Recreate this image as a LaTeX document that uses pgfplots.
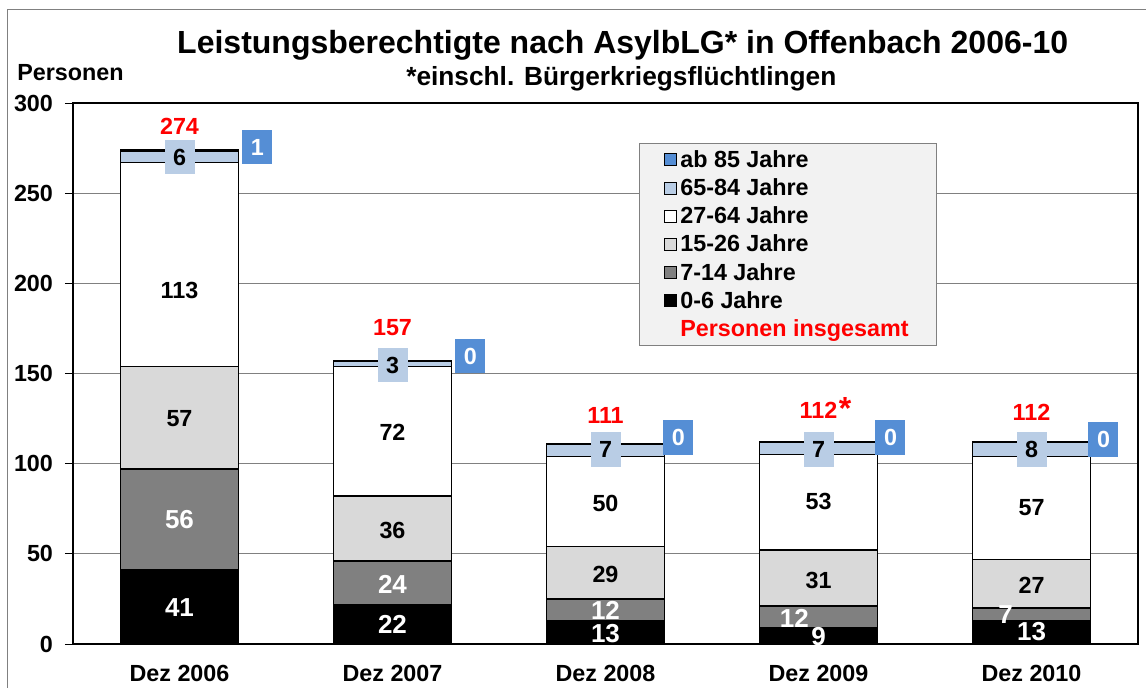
\documentclass[border=0pt]{standalone}
\usepackage{pgfplots}
\pgfplotsset{compat=1.18}
\usepackage{fontspec}
\setmainfont{Liberation Sans}
\definecolor{cA}{HTML}{000000}
\definecolor{cB}{HTML}{808080}
\definecolor{cC}{HTML}{D9D9D9}
\definecolor{cD}{HTML}{FFFFFF}
\definecolor{cE}{HTML}{B9CDE5}
\definecolor{cF}{HTML}{558ED5}
\definecolor{legbg}{HTML}{F2F2F2}
\definecolor{myred}{HTML}{FF0000}
\newcommand\fb{\fontsize{17.5}{20}\selectfont\bfseries}
\newcommand\fw{\fontsize{19.5}{22}\selectfont\bfseries}
\newcommand\barlabels{%
\node[lab, font=\fw, text=white] at (axis cs:0,20) {41};
\node[lab, font=\fw, text=white] at (axis cs:0,68.8) {56};
\node[lab, font=\fb] at (axis cs:0,124.8) {57};
\node[lab, font=\fb] at (axis cs:0,195.8) {113};
\node[lab, font=\fw, text=white] at (axis cs:1,11.1) {22};
\node[lab, font=\fw, text=white] at (axis cs:1,33.3) {24};
\node[lab, font=\fb] at (axis cs:1,63.2) {36};
\node[lab, font=\fb] at (axis cs:1,117.6) {72};
\node[lab, font=\fw, text=white] at (axis cs:2,5.6) {13};
\node[lab, font=\fw, text=white] at (axis cs:2,18.6) {12};
\node[lab, font=\fb] at (axis cs:2,38.8) {29};
\node[lab, font=\fb] at (axis cs:2,78.2) {50};
\node[lab, font=\fw, text=white] at (axis cs:3,3.9) {9};
\node[lab, font=\fw, text=white] at (axis cs:2.887,14.4) {12};
\node[lab, font=\fb] at (axis cs:3,35.5) {31};
\node[lab, font=\fb] at (axis cs:3,78.8) {53};
\node[lab, font=\fw, text=white] at (axis cs:4,6.7) {13};
\node[lab, font=\fw, text=white] at (axis cs:3.878,16.6) {7};
\node[lab, font=\fb] at (axis cs:4,32.7) {27};
\node[lab, font=\fb] at (axis cs:4,75.4) {57};
\node[lb] at (axis cs:0,270) {6};
\node[lb] at (axis cs:1,154.7) {3};
\node[lb] at (axis cs:2,108) {7};
\node[lb] at (axis cs:3,108) {7};
\node[lb] at (axis cs:4,108) {8};
\node[bb] at (axis cs:0.366,275.6) {1};
\node[bb] at (axis cs:1.366,159.7) {0};
\node[bb] at (axis cs:2.342,114.5) {0};
\node[bb] at (axis cs:3.338,114.5) {0};
\node[bb] at (axis cs:4.338,113.5) {0};
\node[lab, font=\fb, text=myred] at (axis cs:0,287.3) {274};
\node[lab, font=\fb, text=myred] at (axis cs:1,175.3) {157};
\node[lab, font=\fb, text=myred] at (axis cs:2,126.5) {111};
\node[lab, font=\fb, text=myred] at (axis cs:3,129.8) {112};
\node[lab, font=\fontsize{24}{26}\selectfont\bfseries, text=myred] at (axis cs:3.125,130.5) {*};
\node[lab, font=\fb, text=myred] at (axis cs:4,128.7) {112};
}
\begin{document}
\begin{tikzpicture}[
  lab/.style={inner sep=0pt},
  lb/.style={fill=cE, minimum width=22.5pt, minimum height=26pt, inner sep=0pt, font=\fb},
  bb/.style={fill=cF, text=white, minimum width=22.5pt, minimum height=26pt, inner sep=0pt, font=\fb}]
\useasboundingbox (0,0) rectangle (859.5pt,515.25pt);
\draw[gray, line width=0.75pt] (5.25pt,-20pt) -- (5.25pt,507.75pt) -- (880pt,507.75pt);
\begin{axis}[
  at={(54.75pt,32.25pt)}, anchor=south west,
  scale only axis, width=798.75pt, height=405.75pt,
  ybar stacked, bar width=88.5pt,
  xmin=-0.5, xmax=4.5, ymin=0, ymax=300,
  xtick={0,1,2,3,4},
  xticklabels={Dez 2006,Dez 2007,Dez 2008,Dez 2009,Dez 2010},
  ytick={0,50,100,150,200,250,300},
  ytick pos=left,
  ymajorgrids, grid style={cB, line width=0.75pt},
  axis line style={black, line width=1.1pt},
  tick align=outside, major tick length=6pt,
  ytick style={black, line width=0.75pt},
  xtick style={draw=none},
  /pgf/number format/assume math mode=true,
  tick label style={font=\fb},
  xticklabel style={yshift=-6pt},
  yticklabel style={xshift=-5.5pt},
  clip=false,
  reverse legend,
  legend cell align=left,
  legend style={at={(0.5315,0.926)}, anchor=north west, fill=legbg, draw=gray,
    line width=0.75pt, font=\fb, row sep=3pt, inner xsep=18pt, inner ysep=3pt,
    nodes={inner xsep=3pt}},
  leg/.style={legend image code/.code={\draw[##1, line width=0.6pt] (0pt,-4.5pt) rectangle (9pt,4.5pt);}},
  after end axis/.code={\barlabels},
]
\addlegendimage{empty legend}
\addlegendentry{\textcolor{myred}{Personen insgesamt}}
\addplot[fill=cA, draw=black, line width=1.1pt, leg] coordinates {(0,41) (1,22) (2,13) (3,9) (4,13)};
\addlegendentry{0-6 Jahre}
\addplot[fill=cB, draw=black, line width=1.1pt, leg] coordinates {(0,56) (1,24) (2,12) (3,12) (4,7)};
\addlegendentry{7-14 Jahre}
\addplot[fill=cC, draw=black, line width=1.1pt, leg] coordinates {(0,57) (1,36) (2,29) (3,31) (4,27)};
\addlegendentry{15-26 Jahre}
\addplot[fill=cD, draw=black, line width=1.1pt, leg] coordinates {(0,113) (1,72) (2,50) (3,53) (4,57)};
\addlegendentry{27-64 Jahre}
\addplot[fill=cE, draw=black, line width=1.1pt, leg] coordinates {(0,6) (1,3) (2,7) (3,7) (4,8)};
\addlegendentry{65-84 Jahre}
\addplot[fill=cF, draw=black, line width=1.1pt, leg] coordinates {(0,1) (1,0) (2,0) (3,0) (4,0)};
\addlegendentry{ab 85 Jahre}
\end{axis}
\node[font=\fontsize{24}{26}\selectfont\bfseries] at (467pt,481.5pt) {Leistungsberechtigte nach AsylbLG* in Offenbach 2006-10};
\node[font=\fontsize{19.7}{22}\selectfont\bfseries] at (466pt,456pt) {*einschl. Bürgerkriegsflüchtlingen};
\node[font=\fb, anchor=west, inner sep=0pt] at (12.75pt,460.5pt) {Personen};
\end{tikzpicture}
\end{document}
